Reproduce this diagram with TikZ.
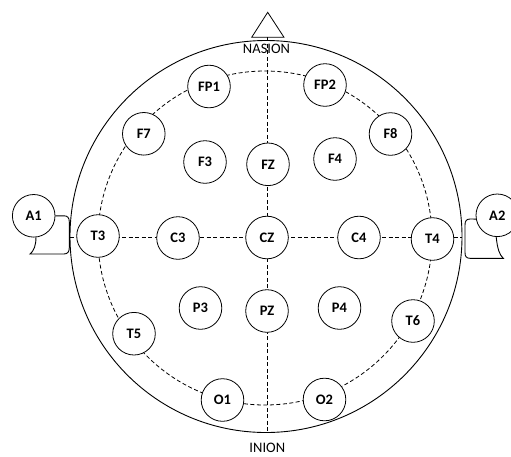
\documentclass[tikz,border=0pt]{standalone}
\usepackage{fontspec}
\setmainfont{Carlito}
\begin{document}
\begin{tikzpicture}[x=1pt,y=-1pt,
  electrode/.style={circle,draw,fill=white,line width=0.8pt,minimum size=42.6pt,inner sep=0pt,font=\fontsize{14.5}{14.5}\selectfont\bfseries},
  guide/.style={dash pattern=on 4pt off 2.5pt,line width=0.8pt},
  outline/.style={line width=0.9pt},
  landmark/.style={inner sep=0pt,font=\fontsize{14.5}{14.5}\selectfont}]
\useasboundingbox (0,0) rectangle (511,456);
% head outline and guide circle
\draw[outline] (266,236.5) circle[radius=196];
\draw[guide] (265,238) circle[radius=167];
% nose
\coordinate (noseL) at (251.7,37.3);
\coordinate (noseT) at (267.7,12.3);
\coordinate (noseR) at (284,37.3);
\draw[line width=0.8pt] (noseL) -- (noseT) -- (noseR) -- cycle;
% midlines
\coordinate (midtop) at (267.7,37.3);
\coordinate (midbot) at (267.7,432.5);
\coordinate (midleft) at (70,237.5);
\coordinate (midright) at (462,237.5);
\draw[guide] (midtop) -- (midbot);
\draw[guide] (midleft) -- (midright);
% labels
\node[landmark] (nasion) at (266.5,49) {NASION};
\node[landmark] (inion) at (267.3,447.5) {INION};
% electrodes
\node[electrode] (FP1) at (209,86.5) {FP1};
\node[electrode] (FP2) at (325,85) {FP2};
\node[electrode] (F7) at (143.8,133.8) {F7};
\node[electrode] (F8) at (390.5,134) {F8};
\node[electrode] (F3) at (205,162) {F3};
\node[electrode] (FZ) at (268,164.3) {FZ};
\node[electrode] (F4) at (335,159) {F4};
\node[electrode] (T3) at (98,236) {T3};
\node[electrode] (C3) at (178,238) {C3};
\node[electrode] (CZ) at (267,237.5) {CZ};
\node[electrode] (C4) at (359,237.5) {C4};
\node[electrode] (T4) at (432.5,239) {T4};
\node[electrode] (P3) at (200.5,308) {P3};
\node[electrode] (PZ) at (267,311) {PZ};
\node[electrode] (P4) at (339.5,308) {P4};
\node[electrode] (T5) at (134,333.7) {T5};
\node[electrode] (T6) at (413,321) {T6};
\node[electrode] (O1) at (222.5,400) {O1};
\node[electrode] (O2) at (324.5,399.5) {O2};
\node[electrode] (A1) at (33.7,215.8) {A1};
\node[electrode] (A2) at (497.3,215.3) {A2};
% ears
\draw[outline] (A1.east) -- (63.8,215.8) .. controls (67.5,215.8) and (69.3,217.5) .. (69.3,222)
  -- (69.3,247.5) .. controls (69.3,252) and (67.5,254) .. (63.8,254)
  -- (30,254) .. controls (34,251) and (36,245) .. (A1.-84);
\draw[outline] (A2.190) -- (470,219) .. controls (466.5,219) and (465,221) .. (465,225)
  -- (465,252.5) .. controls (465,256.5) and (466.5,258.3) .. (470,258.3)
  -- (503.3,258.3) .. controls (499.5,255) and (497.5,249) .. (A2.-93);
\end{tikzpicture}
\end{document}
